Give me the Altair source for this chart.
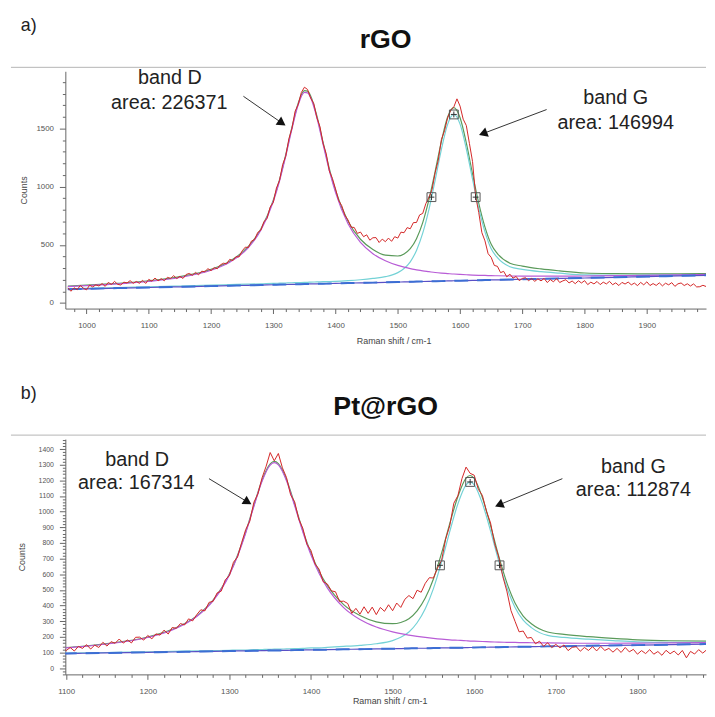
import altair as alt
import pandas as pd

FONT = "Liberation Sans"
INK = "#222222"
C_RAW = "#d32626"
C_TOTAL = "#5a9a5a"
C_G = "#74d2d6"
C_D = "#b85cd6"
C_BASE = "#5a50c6"
C_DASH = "#3c6ed4"

# ---------------- panel a : rGO ----------------
A_FIT_X = [970, 1000, 1050, 1100, 1150, 1200, 1230, 1260, 1280, 1300, 1310, 1320, 1330, 1340, 1350,
           1355, 1360, 1370, 1380, 1390, 1400, 1420, 1440, 1460, 1480, 1500, 1510, 1520, 1530, 1540,
           1550, 1560, 1570, 1580, 1590, 1600, 1610, 1620, 1630, 1640, 1650, 1660, 1680, 1700, 1730,
           1760, 1800, 1850, 1900, 1950, 1995]
A_BASE = [118, 122, 128, 133, 139, 145, 149, 152, 154, 157, 158, 159, 160, 161, 163,
          163, 164, 165, 166, 167, 168, 171, 173, 175, 178, 180, 181, 182, 184, 185,
          186, 187, 188, 190, 191, 192, 193, 194, 195, 197, 198, 199, 201, 204, 207,
          211, 215, 221, 227, 233, 238]
A_DBAND = [141, 149, 164, 185, 219, 281, 350, 476, 625, 872, 1049, 1263, 1497, 1704, 1810,
           1806, 1764, 1592, 1363, 1139, 949, 681, 521, 424, 363, 323, 308, 295, 285, 276,
           269, 262, 257, 253, 249, 246, 243, 240, 238, 237, 235, 234, 232, 231, 231,
           231, 232, 235, 238, 242, 246]
A_GBAND = [122, 126, 133, 139, 146, 153, 158, 162, 165, 169, 170, 172, 174, 175, 178,
           178, 180, 181, 183, 184, 186, 192, 200, 211, 226, 261, 296, 354, 452, 600,
           805, 1057, 1321, 1536, 1621, 1538, 1326, 1064, 814, 612, 466, 389, 311, 289, 269,
           256, 241, 238, 239, 242, 245]
A_TOTAL = [145, 153, 169, 191, 226, 289, 359, 486, 636, 884, 1061, 1276, 1511, 1718, 1825,
           1821, 1780, 1608, 1380, 1156, 967, 702, 548, 460, 411, 404, 422, 467, 553, 691,
           888, 1132, 1390, 1599, 1679, 1592, 1376, 1110, 857, 652, 504, 424, 342, 317, 293,
           276, 258, 252, 250, 251, 253]
A_RAW_START = 970
A_RAW = [130, 101, 131, 114, 150, 127, 113, 153, 138, 156,
         146, 167, 143, 177, 159, 186, 160, 155, 179, 172,
         192, 169, 185, 169, 195, 168, 203, 188, 214, 191,
         209, 191, 221, 210, 235, 210, 229, 211, 245, 254,
         238, 263, 242, 273, 269, 295, 278, 304, 294, 328,
         342, 337, 375, 364, 398, 396, 448, 480, 477, 533,
         545, 607, 626, 698, 728, 825, 864, 988, 1053, 1190,
         1262, 1411, 1502, 1648, 1706, 1809, 1855, 1836, 1762, 1715,
         1593, 1515, 1370, 1284, 1134, 1070, 981, 881, 836, 754,
         714, 652, 649, 598, 610, 570, 586, 540, 561, 562,
         520, 549, 527, 558, 530, 570, 558, 609, 604, 648,
         638, 691, 692, 757, 770, 854, 908, 975, 1120, 1228,
         1405, 1480, 1592, 1658, 1686, 1755, 1692, 1580, 1526, 1372,
         1216, 918, 778, 605, 534, 424, 392, 323, 315, 261,
         272, 225, 248, 214, 228, 192, 211, 217, 192, 211,
         186, 208, 190, 211, 176, 201, 182, 210, 176, 190,
         200, 172, 189, 166, 191, 172, 192, 158, 179, 164,
         185, 158, 179, 164, 186, 157, 173, 150, 177, 163,
         180, 156, 171, 149, 177, 156, 182, 150, 167, 151,
         173, 147, 170, 156, 175, 143, 165, 172, 150, 165,
         146, 164, 138, 140, 152, 142]
A_BOX_X = [1554, 1590, 1625]
A_BOX_Y = [910, 1621, 910]
A_NOTE_TEXT = ["band D", "area: 226371", "band G", "area: 146994"]
A_NOTE_X = [1134, 1133, 1850, 1850]
A_NOTE_Y = [1933, 1720, 1763, 1550]
A_ARROW_X1 = [1252, 1739]
A_ARROW_Y1 = [1777, 1663]
A_ARROW_X2 = [1312, 1639]
A_ARROW_Y2 = [1554, 1461]
A_ARROW_ANGLE = [124, 249]

# ---------------- panel b : Pt@rGO ----------------
B_FIT_X = [1096, 1120, 1150, 1200, 1230, 1260, 1280, 1300, 1310, 1320, 1330, 1340, 1350, 1355, 1360,
           1370, 1380, 1390, 1400, 1410, 1420, 1440, 1460, 1480, 1500, 1510, 1520, 1530, 1540, 1550,
           1560, 1570, 1580, 1590, 1595, 1600, 1610, 1620, 1630, 1640, 1650, 1660, 1670, 1690, 1710,
           1740, 1770, 1800, 1840, 1884]
B_BASE = [93, 95, 97, 101, 103, 106, 107, 109, 110, 110, 111, 112, 113, 113, 113,
          114, 115, 116, 117, 117, 118, 120, 121, 123, 124, 125, 126, 127, 127, 128,
          129, 130, 130, 131, 132, 132, 133, 134, 134, 135, 136, 137, 137, 139, 140,
          143, 145, 147, 150, 154]
B_DBAND = [129, 138, 154, 196, 244, 330, 430, 596, 716, 864, 1033, 1194, 1298, 1313, 1299,
           1197, 1037, 870, 723, 605, 513, 387, 311, 263, 232, 220, 211, 203, 196, 190,
           185, 181, 178, 175, 173, 172, 170, 168, 166, 165, 164, 163, 162, 161, 160,
           159, 159, 160, 161, 163]
B_GBAND = [95, 97, 100, 104, 107, 110, 112, 114, 116, 116, 118, 119, 120, 121, 121,
           123, 125, 126, 129, 130, 133, 139, 146, 156, 176, 197, 231, 290, 379, 508,
           679, 873, 1050, 1171, 1190, 1172, 1053, 877, 684, 515, 388, 307, 259, 209, 196,
           185, 176, 168, 164, 164]
B_TOTAL = [131, 140, 157, 199, 248, 334, 435, 601, 722, 870, 1040, 1201, 1305, 1321, 1307,
           1206, 1047, 880, 735, 618, 528, 406, 336, 296, 284, 292, 316, 366, 448, 570,
           735, 924, 1097, 1214, 1231, 1212, 1090, 911, 716, 545, 416, 333, 284, 231, 216,
           201, 190, 181, 175, 173]
B_RAW_START = 1095
B_RAW = [137, 112, 132, 109, 139, 126, 150, 122, 147, 132,
         165, 141, 169, 159, 186, 160, 180, 161, 197, 198,
         179, 209, 187, 219, 211, 243, 218, 260, 254, 285,
         276, 315, 302, 342, 373, 366, 420, 427, 481, 492,
         565, 591, 677, 710, 802, 886, 939, 1060, 1114, 1216,
         1290, 1378, 1325, 1372, 1280, 1218, 1108, 1063, 952, 894,
         792, 751, 665, 632, 552, 538, 494, 488, 426, 428,
         413, 350, 382, 345, 392, 350, 390, 342, 388, 363,
         405, 367, 416, 388, 440, 464, 444, 498, 485, 542,
         578, 576, 640, 688, 825, 910, 1054, 1102, 1212, 1285,
         1245, 1233, 1143, 1104, 1002, 928, 795, 710, 586, 492,
         368, 299, 232, 237, 192, 196, 156, 172, 139, 162,
         131, 152, 130, 148, 112, 133, 137, 108, 132, 113,
         137, 110, 139, 113, 126, 102, 126, 100, 132, 104,
         120, 89, 112, 93, 118, 89, 106, 82, 114, 92,
         109, 84, 113, 66, 107, 90, 118, 96, 118]
B_BOX_X = [1558, 1595, 1631]
B_BOX_Y = [657, 1190, 657]
B_NOTE_TEXT = ["band D", "area: 167314", "band G", "area: 112874"]
B_NOTE_X = [1187, 1186, 1795, 1795]
B_NOTE_Y = [1331, 1180, 1287, 1135]
B_ARROW_X1 = [1275, 1708]
B_ARROW_Y1 = [1211, 1211]
B_ARROW_X2 = [1321, 1632]
B_ARROW_Y2 = [1066, 1047]
B_ARROW_ANGLE = [121, 247]

PLOT_W = 648


def make_panel(letter, name, fit_x, base, dband, gband, total, raw_start, raw,
               box_x, box_y, note_text, note_x, note_y, ax1, ay1, ax2, ay2, aang,
               xdom, ydom, xticks, yticks, ylabel_test, height, ylab_size, ytitle_pad,
               xtitle_x, xtitle_pad):
    xs = alt.Scale(domain=xdom, nice=False, zero=False)
    ys = alt.Scale(domain=ydom, nice=False, zero=False)
    xax = alt.Axis(values=xticks, format="d",
                   labelExpr="datum.value % 100 === 0 ? datum.label : ''",
                   tickSize={"condition": {"test": "datum.value % 100 === 0", "value": 5}, "value": 3},
                   labelOverlap=False, labelFlush=False, labelPadding=8, labelFontSize=8,
                   title="Raman shift / cm-1", titleX=xtitle_x, titlePadding=xtitle_pad)
    yax = alt.Axis(values=yticks, format="d",
                   labelExpr=f"({ylabel_test}) ? datum.label : ''",
                   tickSize={"condition": {"test": ylabel_test, "value": 6}, "value": 3},
                   labelOverlap=False, labelFlush=False, labelPadding=6, labelFontSize=ylab_size,
                   title="Counts", titlePadding=ytitle_pad)

    fit = pd.DataFrame({"x": fit_x, "base": base, "d": dband, "g": gband, "t": total})
    rawdf = pd.DataFrame({"x": [raw_start + 5 * i for i in range(len(raw))], "y": raw})
    boxes = pd.DataFrame({"x": box_x, "y": box_y})
    notes = pd.DataFrame({"x": note_x, "y": note_y, "label": note_text})
    arrows = pd.DataFrame({"x1": ax1, "y1": ay1, "x2": ax2, "y2": ay2, "ang": aang})
    one = pd.DataFrame({"k": [0]})

    X = alt.X("x:Q", scale=xs, axis=xax)

    def fline(field, color, width=1.2, dash=None):
        kw = dict(color=color, strokeWidth=width, interpolate="monotone", clip=True)
        if dash:
            kw["strokeDash"] = dash
        return alt.Chart(fit).mark_line(**kw).encode(
            x=X, y=alt.Y(f"{field}:Q", scale=ys, axis=yax))

    sep = alt.Chart(one).mark_rule(color="#b4b4b4", strokeWidth=1).encode(
        x=alt.value(-55), x2=alt.value(PLOT_W), y=alt.value(-4))
    let = alt.Chart(pd.DataFrame({"t": [letter]})).mark_text(
        font=FONT, fontSize=18, color=INK, align="left", baseline="top").encode(
        text="t:N", x=alt.value(-45), y=alt.value(-55))
    ttl = alt.Chart(pd.DataFrame({"t": [name]})).mark_text(
        font=FONT, fontSize=27, fontWeight="bold", color="#111", align="center",
        baseline="alphabetic").encode(text="t:N", x=alt.value(PLOT_W / 2), y=alt.value(-24))

    green = fline("t", C_TOTAL)
    cyan = fline("g", C_G)
    mag = fline("d", C_D)
    basel = fline("base", C_BASE, 1.2)
    dashl = fline("base", C_DASH, 2, [14, 9])
    red = alt.Chart(rawdf).mark_line(color=C_RAW, strokeWidth=1, clip=True).encode(
        x=X, y=alt.Y("y:Q", scale=ys, axis=yax))
    box = alt.Chart(boxes).mark_point(shape="square", filled=False, size=80,
                                      color="#555555", strokeWidth=1, opacity=1).encode(
        x=X, y=alt.Y("y:Q", scale=ys, axis=yax))
    plus = alt.Chart(boxes).mark_point(shape="M-1,0L1,0M0,-1L0,1", filled=False, size=36,
                                       color="#333333", strokeWidth=1, opacity=1).encode(
        x=X, y=alt.Y("y:Q", scale=ys, axis=yax))
    arr = alt.Chart(arrows).mark_rule(color="#333333", strokeWidth=1).encode(
        x=alt.X("x1:Q", scale=xs, axis=xax), y=alt.Y("y1:Q", scale=ys, axis=yax),
        x2="x2:Q", y2="y2:Q")
    head = alt.Chart(arrows).mark_point(shape="triangle", filled=True, size=100,
                                        color="#111111", opacity=1).encode(
        x=alt.X("x2:Q", scale=xs, axis=xax), y=alt.Y("y2:Q", scale=ys, axis=yax),
        angle=alt.Angle("ang:Q", scale=None))
    txt = alt.Chart(notes).mark_text(font=FONT, fontSize=20, color=INK, align="center",
                                     baseline="middle").encode(
        x=X, y=alt.Y("y:Q", scale=ys, axis=yax), text="label:N")

    return alt.layer(sep, let, ttl, green, cyan, mag, basel, dashl, red, box, plus,
                     arr, head, txt).properties(width=PLOT_W, height=height)


panel_a = make_panel("a)", "rGO", A_FIT_X, A_BASE, A_DBAND, A_GBAND, A_TOTAL, A_RAW_START, A_RAW,
                     A_BOX_X, A_BOX_Y, A_NOTE_TEXT, A_NOTE_X, A_NOTE_Y,
                     A_ARROW_X1, A_ARROW_Y1, A_ARROW_X2, A_ARROW_Y2, A_ARROW_ANGLE,
                     [966, 1995], [-48, 1992], list(range(980, 1995, 20)), list(range(0, 1992, 100)),
                     "datum.value % 500 === 0", 240, 8, 7, 332, 7)

panel_b = make_panel("b)", "Pt@rGO", B_FIT_X, B_BASE, B_DBAND, B_GBAND, B_TOTAL, B_RAW_START, B_RAW,
                     B_BOX_X, B_BOX_Y, B_NOTE_TEXT, B_NOTE_X, B_NOTE_Y,
                     B_ARROW_X1, B_ARROW_Y1, B_ARROW_X2, B_ARROW_Y2, B_ARROW_ANGLE,
                     [1099, 1884], [-40, 1464], list(range(1100, 1884, 20)), list(range(-40, 1464, 20)),
                     "datum.value % 100 === 0 && datum.value >= 0", 238, 7, 12, 328, 1)

chart = alt.vconcat(panel_a, panel_b, spacing=132, bounds="flush").properties(
    padding={"left": 2, "top": 5, "right": 0, "bottom": 0}
).configure_view(stroke=None).configure_axis(
    labelFont=FONT, titleFont=FONT, labelColor="#555555", titleColor="#444444",
    domainColor="#666666", tickColor="#666666", grid=False, titleFontSize=9,
    titleFontWeight="normal"
)

chart.save("out.html", embed_options={"renderer": "svg", "actions": False})
